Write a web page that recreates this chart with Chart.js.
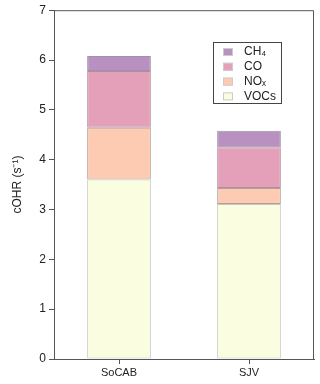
<!DOCTYPE html>
<html>
<head>
<meta charset="utf-8">
<script src="https://cdn.jsdelivr.net/npm/chart.js@4"></script>
<style>
  html,body{margin:0;padding:0;background:#fff;}
  #wrap{width:320px;height:384px;position:relative;}
</style>
</head>
<body>
<div id="wrap"><canvas id="chart" width="320" height="384"></canvas></div>
<script>
// data
const regions = ['SoCAB', 'SJV'];
const vocs = [3.60, 3.11];
const nox = [1.04, 0.32];
const co = [1.14, 0.82];
const ch4 = [0.30, 0.33];
const yTicks = [0, 1, 2, 3, 4, 5, 6, 7];

const axisColor = '#555';
const textColor = '#222';
const font = { family: 'Liberation Sans, Arial, sans-serif', size: 11 };

// frame on top/right + boxed legend, drawn after the bars
const framePlugin = {
  id: 'frame',
  afterDraw(chart){
    const { ctx, chartArea: a } = chart;
    ctx.save();
    ctx.strokeStyle = axisColor;
    ctx.lineWidth = 1;
    ctx.beginPath();
    ctx.moveTo(a.left, a.top + 0.5);
    ctx.lineTo(a.right - 0.5, a.top + 0.5);
    ctx.lineTo(a.right - 0.5, a.bottom);
    ctx.stroke();

    // legend box
    const bx = 213.5, by = 42.5, bw = 68, bh = 61;
    ctx.fillStyle = '#fff';
    ctx.fillRect(bx, by, bw, bh);
    ctx.strokeStyle = '#444';
    ctx.strokeRect(bx, by, bw, bh);
    const items = chart.data.datasets.slice().reverse();
    ctx.font = '12px ' + font.family;
    ctx.textBaseline = 'middle';
    items.forEach((ds, i) => {
      const y = 52 + i * 14.8;
      ctx.fillStyle = ds.backgroundColor;
      ctx.fillRect(223, y - 4, 10, 8);
      ctx.strokeStyle = '#ccc';
      ctx.strokeRect(223.5, y - 3.5, 9, 7);
      ctx.fillStyle = textColor;
      ctx.fillText(ds.label, 244, y);
    });
    ctx.restore();
  }
};

new Chart(document.getElementById('chart'), {
  type: 'bar',
  data: {
    labels: regions,
    datasets: [
      { label: 'VOCs', data: vocs, backgroundColor: '#fafde0', borderColor: '#c8c8c0' },
      { label: 'NOₓ', data: nox, backgroundColor: '#fdcab2', borderColor: '#b0a098' },
      { label: 'CO', data: co, backgroundColor: '#e4a0b8', borderColor: '#b090a0' },
      { label: 'CH₄', data: ch4, backgroundColor: '#b891c0', borderColor: '#a090a8' }
    ].map(d => Object.assign(d, { borderWidth: 1, borderSkipped: false, barPercentage: 0.49, categoryPercentage: 1 }))
  },
  options: {
    responsive: false,
    animation: false,
    layout: { padding: { top: 10, right: 6, left: 0, bottom: 0 } },
    plugins: { legend: { display: false }, tooltip: { enabled: false } },
    scales: {
      x: {
        stacked: true,
        grid: { drawOnChartArea: false, offset: false, tickLength: 5, color: axisColor },
        border: { color: axisColor },
        ticks: { color: textColor, font: font, padding: 2, maxRotation: 0 },
        afterFit(scale){ scale.height = 25; }
      },
      y: {
        stacked: true,
        min: 0,
        max: 7,
        afterBuildTicks(scale){ scale.ticks = yTicks.map(v => ({ value: v })); },
        grid: { drawOnChartArea: false, tickLength: 5, color: axisColor },
        border: { color: axisColor },
        ticks: { color: textColor, font: { family: font.family, size: 12 }, padding: 3 },
        title: { display: true, text: 'cOHR (s⁻¹)', color: textColor, font: { family: font.family, size: 12 }, padding: { top: 10, bottom: 0 } },
        afterFit(scale){ scale.width = 54; }
      }
    }
  },
  plugins: [framePlugin]
});
</script>
</body>
</html>
